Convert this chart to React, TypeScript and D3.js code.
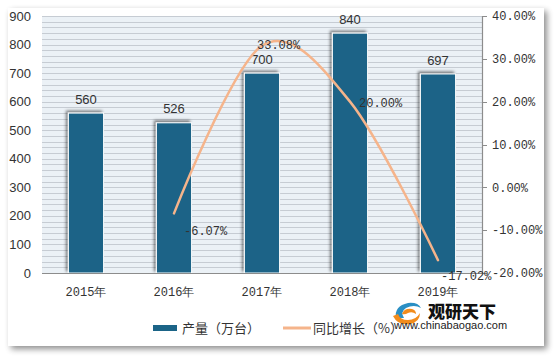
import React from "react";
import * as d3 from "d3";

const years = ["2015年", "2016年", "2017年", "2018年", "2019年"];
const output = [560, 526, 700, 840, 697];
const growthYears = ["2016年", "2017年", "2018年", "2019年"];
const growth = [-6.07, 33.08, 20.0, -17.02];
const growthLabels = ["-6.07%", "33.08%", "20.00%", "-17.02%"];
const leftTicks = [0, 100, 200, 300, 400, 500, 600, 700, 800, 900];
const rightTicks = [-20, -10, 0, 10, 20, 30, 40];
const rightTickLabels = ["-20.00%", "-10.00%", "0.00%", "10.00%", "20.00%", "30.00%", "40.00%"];

// label placement offsets (style), relative to the point
const growthLabelOffsets = [
  [10, 17],
  [-5, -1],
  [9, 1],
  [3, 16],
];

const W = 558;
const H = 358;
const PL = 42;
const PR = 482;
const PT = 16;
const PB = 273;

const BAR = "#1b6487";
const LINE = "#f5b48b";

export default function App() {
  const x = d3
    .scaleBand<string>()
    .domain(years)
    .range([PL, PR])
    .paddingInner(0.6)
    .paddingOuter(0.3);
  const yL = d3.scaleLinear().domain([0, 900]).range([PB, PT]);
  const yR = d3.scaleLinear().domain([-20, 40]).range([PB, PT]);
  const cx = (k: string) => (x(k) as number) + x.bandwidth() / 2;

  const gridVals = d3.range(0, 901, 20);

  const linePts: [number, number][] = growthYears.map((k, i) => [cx(k), yR(growth[i])]);
  const linePath = d3.line().curve(d3.curveCardinal.tension(0))(linePts) || "";

  const numFont = "'Liberation Sans', Arial, sans-serif";
  const monoFont = "'Liberation Mono', 'DejaVu Sans Mono', monospace";
  const cjkFont = "'Noto Sans CJK SC', sans-serif";

  return (
    <svg
      width={W}
      height={H}
      style={{ position: "absolute", left: 0, top: 0, background: "#ffffff" }}
    >
      <defs>
        <filter id="cardShadow" x="-5%" y="-5%" width="110%" height="115%">
          <feGaussianBlur in="SourceAlpha" stdDeviation="3" />
          <feOffset dx="3" dy="3" result="b" />
          <feComponentTransfer>
            <feFuncA type="linear" slope="0.45" />
          </feComponentTransfer>
          <feMerge>
            <feMergeNode />
            <feMergeNode in="SourceGraphic" />
          </feMerge>
        </filter>
        <filter id="barShadow" x="-40%" y="-10%" width="160%" height="120%">
          <feGaussianBlur in="SourceAlpha" stdDeviation="1.8" />
          <feOffset dx="-2" dy="-2" result="b" />
          <feComponentTransfer>
            <feFuncA type="linear" slope="0.5" />
          </feComponentTransfer>
          <feMerge>
            <feMergeNode />
            <feMergeNode in="SourceGraphic" />
          </feMerge>
        </filter>
      </defs>

      <rect x={8} y={8} width={536} height={338} fill="#ffffff" filter="url(#cardShadow)" />

      {/* plot background */}
      <rect x={PL} y={PT} width={PR - PL} height={PB - PT} fill="#ebf1f6" />
      {gridVals.map((v) => (
        <line
          key={v}
          x1={PL}
          x2={PR}
          y1={Math.round(yL(v)) + 0.5}
          y2={Math.round(yL(v)) + 0.5}
          stroke="#c6ccd3"
          strokeWidth={1}
        />
      ))}

      {/* bars */}
      {years.map((k, i) => (
        <rect
          key={k}
          x={x(k)}
          y={yL(output[i])}
          width={x.bandwidth()}
          height={PB - yL(output[i])}
          fill={BAR}
          stroke="#ffffff"
          strokeWidth={1}
          filter="url(#barShadow)"
        />
      ))}

      {/* axes */}
      <line x1={PL} x2={PR} y1={PB + 0.5} y2={PB + 0.5} stroke="#8c8c8c" strokeWidth={1.2} />
      <line x1={PR + 0.5} x2={PR + 0.5} y1={PT} y2={PB} stroke="#8c8c8c" strokeWidth={1.2} />
      {rightTicks.map((v) => (
        <line
          key={v}
          x1={PR}
          x2={PR + 5}
          y1={Math.round(yR(v)) + 0.5}
          y2={Math.round(yR(v)) + 0.5}
          stroke="#8c8c8c"
        />
      ))}

      {leftTicks.map((v) => (
        <text
          key={v}
          x={31}
          y={yL(v)}
          dy="0.35em"
          textAnchor="end"
          fontFamily={numFont}
          fontSize={13}
          fill="#333"
        >
          {v}
        </text>
      ))}
      {rightTicks.map((v, i) => (
        <text
          key={v}
          x={492}
          y={yR(v)}
          dy="0.35em"
          textAnchor="start"
          fontFamily={monoFont}
          fontSize={12}
          fill="#333"
        >
          {rightTickLabels[i]}
        </text>
      ))}
      {years.map((k) => (
        <text
          key={k}
          x={cx(k)}
          y={292}
          dy="0.35em"
          textAnchor="middle"
          fontFamily={monoFont}
          fontSize={12}
          fill="#333"
        >
          {k}
        </text>
      ))}

      {/* bar labels */}
      {years.map((k, i) => (
        <text
          key={k}
          x={cx(k)}
          y={yL(output[i]) - 14}
          dy="0.35em"
          textAnchor="middle"
          fontFamily={numFont}
          fontSize={13}
          fill="#333"
        >
          {output[i]}
        </text>
      ))}

      {/* growth line */}
      <path d={linePath} fill="none" stroke={LINE} strokeWidth={2.5} strokeLinecap="round" />
      {growthYears.map((k, i) => (
        <text
          key={k}
          x={cx(k) + growthLabelOffsets[i][0]}
          y={yR(growth[i]) + growthLabelOffsets[i][1]}
          dy="0.35em"
          textAnchor="start"
          fontFamily={monoFont}
          fontSize={12}
          fill="#333"
        >
          {growthLabels[i]}
        </text>
      ))}

      {/* legend */}
      <rect x={153} y={325} width={24} height={6} fill={BAR} />
      <text x={182} y={328} dy="0.35em" fontFamily={cjkFont} fontSize={13} fill="#333">
        产量（万台）
      </text>
      <line x1={283} x2={311} y1={328} y2={328} stroke={LINE} strokeWidth={3} />
      <text x={313} y={328} dy="0.35em" fontFamily={cjkFont} fontSize={13} fill="#333">
        同比增长（%）
      </text>

      {/* watermark */}
      <g>
        <path d="M396,318 Q394,306 408,303 Q418,302 421,308 Q414,304 406,308 Q400,312 404,318 Z" fill="#2a8fc4" />
        <path d="M393,316 Q398,326 410,324 Q420,322 420,313 Q416,320 408,320 Q400,320 398,314 Z" fill="#f28c1c" />
        <path d="M402,314 Q404,308 412,309 Q416,310 416,314 Q412,311 408,313 Q405,315 402,314 Z" fill="#f28c1c" />
        <text x={428} y={312} dy="0.35em" fontFamily={cjkFont} fontWeight={900} fontSize={17} fill="#111">
          观研天下
        </text>
        <text x={394} y={325} dy="0.35em" fontFamily={numFont} fontSize={11} fill="#222">
          www.chinabaogao.com
        </text>
      </g>
    </svg>
  );
}
